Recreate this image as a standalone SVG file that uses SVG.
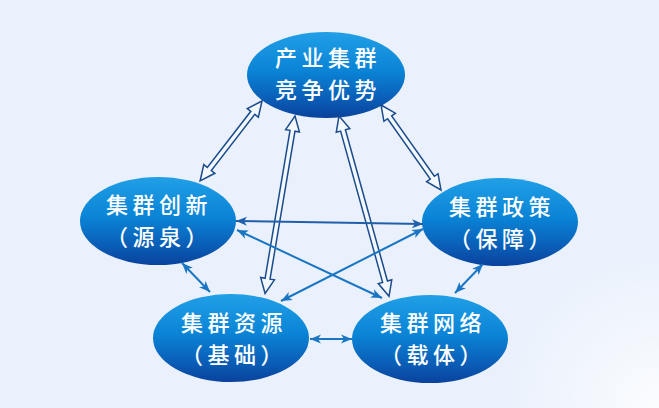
<svg xmlns="http://www.w3.org/2000/svg" width="659" height="408" viewBox="0 0 659 408">
<style>
.node{fill:url(#eg)}
.lbl{fill:#ffffff;font-family:"Noto Sans CJK SC","Noto Sans",sans-serif;font-size:22px;font-weight:500;letter-spacing:4.5px;text-anchor:middle}
.hollow{fill:#f3f8ff;stroke:#1b4b8a;stroke-width:1.5;stroke-linejoin:miter}
.solid{stroke:#1a76c3;stroke-width:2;fill:none;marker-start:url(#ah);marker-end:url(#ah)}
.dark{stroke:#1f5fab;marker-start:url(#ahd);marker-end:url(#ahd)}
</style>
<defs>
<linearGradient id="eg" x1="0" y1="0" x2="0" y2="1">
<stop offset="0" stop-color="#219fe6"/>
<stop offset="0.45" stop-color="#0a84d6"/>
<stop offset="0.8" stop-color="#0a5bb4"/>
<stop offset="1" stop-color="#09429d"/>
</linearGradient>
<radialGradient id="glow" cx="659" cy="408" r="160" gradientUnits="userSpaceOnUse">
<stop offset="0" stop-color="#ffffff" stop-opacity="0.8"/>
<stop offset="1" stop-color="#ffffff" stop-opacity="0"/>
</radialGradient>
<marker id="ah" markerUnits="userSpaceOnUse" markerWidth="12" markerHeight="10" refX="11" refY="5" orient="auto-start-reverse">
<path d="M0,0.5 L11,5 L0,9.5 L3,5 Z" fill="#1a76c3"/>
</marker>
<marker id="ahd" markerUnits="userSpaceOnUse" markerWidth="12" markerHeight="10" refX="11" refY="5" orient="auto-start-reverse">
<path d="M0,0.5 L11,5 L0,9.5 L3,5 Z" fill="#1f5fab"/>
</marker>
</defs>
<rect width="659" height="408" fill="#eaf1fc"/>
<rect width="659" height="408" fill="url(#glow)"/>

<g id="top">
<ellipse class="node" cx="326" cy="75" rx="79" ry="43"/>
<text class="lbl" x="328" y="66">产业集群</text>
<text class="lbl" x="328" y="98">竞争优势</text>
</g>
<g id="innovation">
<ellipse class="node" cx="158" cy="221" rx="78" ry="44"/>
<text class="lbl" x="159" y="213">集群创新</text>
<text class="lbl" x="159" y="245">（源泉）</text>
</g>
<g id="policy">
<ellipse class="node" cx="500" cy="222" rx="78" ry="44"/>
<text class="lbl" x="502" y="215">集群政策</text>
<text class="lbl" x="502" y="247">（保障）</text>
</g>
<g id="resource">
<ellipse class="node" cx="231" cy="338" rx="78" ry="44"/>
<text class="lbl" x="234" y="331">集群资源</text>
<text class="lbl" x="234" y="363">（基础）</text>
</g>
<g id="network">
<ellipse class="node" cx="430" cy="339" rx="78" ry="44"/>
<text class="lbl" x="433" y="331">集群网络</text>
<text class="lbl" x="433" y="363">（载体）</text>
</g>

<g id="connectors">
<path class="hollow" transform="translate(262,101) rotate(127.78)" d="M0,0 L15,-7 L15,-2.5 L86,-2.5 L86,-7 L101,0 L86,7 L86,2.5 L15,2.5 L15,7 Z"/>
<path class="hollow" transform="translate(381,105) rotate(54.78)" d="M0,0 L15,-7 L15,-2.5 L89,-2.5 L89,-7 L104,0 L89,7 L89,2.5 L15,2.5 L15,7 Z"/>
<path class="hollow" transform="translate(295,116) rotate(99.57)" d="M0,0 L15,-7 L15,-2.5 L165,-2.5 L165,-7 L180,0 L165,7 L165,2.5 L15,2.5 L15,7 Z"/>
<path class="hollow" transform="translate(339,116) rotate(74.48)" d="M0,0 L15,-7 L15,-2.5 L172,-2.5 L172,-7 L187,0 L172,7 L172,2.5 L15,2.5 L15,7 Z"/>
<line class="solid dark" x1="236" y1="221" x2="423" y2="224"/>
<line class="solid" x1="237" y1="230" x2="382" y2="298"/>
<line class="solid" x1="423" y1="229" x2="281" y2="301"/>
<line class="solid" x1="182" y1="263" x2="210" y2="292"/>
<line class="solid" x1="483" y1="264" x2="455" y2="293"/>
<line class="solid" x1="310" y1="339" x2="352" y2="339"/>
</g>
</svg>
